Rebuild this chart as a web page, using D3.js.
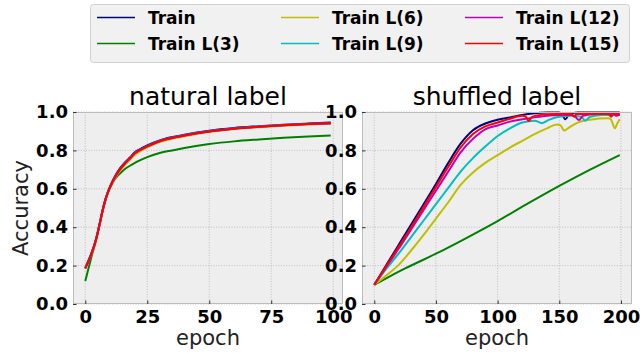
<!DOCTYPE html>
<html lang="en">
  <head>
    <script src="https://d3js.org/d3.v7.min.js"></script>
    <meta charset="utf-8"/>
    <title>Accuracy natural vs shuffled label</title>
  </head>
  <body style="margin:0;background:#fff">
    <div id="chart_div">
      <svg id="chart"></svg>
    </div>
  </body>
</html>

<style>
  text { font-family: "DejaVu Sans", sans-serif; }
</style>

<script>
  const width = 640;
  const height = 356;

  // legend / series names
  const seriesNames = ["Train", "Train L(3)", "Train L(6)", "Train L(9)", "Train L(12)", "Train L(15)"];
  const seriesColors = ["#000080", "#008000", "#bfbf00", "#00bfbf", "#bf00bf", "#ff0000"];

  // natural label (epochs 0..99)
  const natEpochs   = [0, 1, 2, 3, 4, 5, 6, 7, 8, 9, 10, 12, 14, 16, 18, 20, 22, 25, 30, 35, 40, 50, 60, 70, 80, 90, 99];
  const natTrain    = [0.188, 0.218, 0.248, 0.283, 0.323, 0.373, 0.43, 0.49, 0.54, 0.58, 0.612, 0.665, 0.706, 0.737, 0.763, 0.79, 0.806, 0.826, 0.852, 0.869, 0.882, 0.903, 0.917, 0.926, 0.934, 0.94, 0.945];
  const natTrainL3  = [0.12, 0.17, 0.22, 0.27, 0.315, 0.37, 0.43, 0.485, 0.535, 0.575, 0.605, 0.652, 0.68, 0.703, 0.72, 0.735, 0.748, 0.765, 0.786, 0.8, 0.813, 0.833, 0.847, 0.857, 0.866, 0.873, 0.878];
  const natTrainL6  = [0.184, 0.213, 0.243, 0.277, 0.316, 0.366, 0.423, 0.483, 0.533, 0.573, 0.604, 0.655, 0.694, 0.725, 0.751, 0.778, 0.795, 0.816, 0.843, 0.861, 0.874, 0.896, 0.911, 0.921, 0.929, 0.935, 0.939];
  const natTrainL9  = [0.186, 0.215, 0.245, 0.28, 0.32, 0.37, 0.427, 0.487, 0.537, 0.577, 0.609, 0.661, 0.702, 0.733, 0.759, 0.786, 0.802, 0.822, 0.849, 0.866, 0.879, 0.9, 0.914, 0.924, 0.932, 0.938, 0.942];
  const natTrainL12 = [0.186, 0.215, 0.245, 0.28, 0.32, 0.37, 0.427, 0.487, 0.537, 0.577, 0.609, 0.661, 0.701, 0.732, 0.758, 0.785, 0.801, 0.821, 0.848, 0.865, 0.878, 0.899, 0.913, 0.923, 0.931, 0.937, 0.941];
  const natTrainL15 = [0.186, 0.215, 0.245, 0.28, 0.32, 0.37, 0.427, 0.487, 0.537, 0.577, 0.609, 0.661, 0.701, 0.732, 0.758, 0.785, 0.801, 0.821, 0.848, 0.865, 0.878, 0.899, 0.913, 0.923, 0.931, 0.937, 0.941];

  // shuffled label (epochs 0..199)
  const shfTrainEpochs = [0, 10, 20, 30, 40, 50, 60, 70, 80, 90, 100, 110, 120, 130, 140, 150, 152, 155, 158, 165, 180, 199];
  const shfTrain       = [0.10, 0.205, 0.31, 0.415, 0.52, 0.625, 0.735, 0.835, 0.905, 0.94, 0.96, 0.972, 0.985, 0.993, 0.997, 0.998, 0.99, 0.962, 0.99, 0.998, 0.998, 0.998];
  const shfL3Epochs = [0, 10, 25, 50, 75, 100, 125, 150, 175, 199];
  const shfTrainL3  = [0.10, 0.135, 0.185, 0.262, 0.345, 0.432, 0.525, 0.615, 0.70, 0.776];
  const shfL6Epochs = [0, 10, 20, 30, 40, 50, 60, 70, 80, 90, 100, 110, 120, 130, 140, 148, 151, 154, 157, 165, 175, 190, 192, 195, 197, 199];
  const shfTrainL6  = [0.10, 0.15, 0.205, 0.28, 0.36, 0.445, 0.53, 0.62, 0.685, 0.735, 0.775, 0.815, 0.85, 0.885, 0.915, 0.935, 0.93, 0.903, 0.915, 0.945, 0.96, 0.967, 0.96, 0.915, 0.94, 0.962];
  const shfL9Epochs = [0, 10, 20, 30, 40, 50, 60, 70, 80, 90, 100, 110, 120, 130, 136, 142, 150, 160, 168, 171, 175, 185, 199];
  const shfTrainL9  = [0.10, 0.185, 0.265, 0.35, 0.435, 0.52, 0.605, 0.69, 0.76, 0.82, 0.875, 0.915, 0.945, 0.955, 0.942, 0.96, 0.975, 0.98, 0.975, 0.955, 0.975, 0.985, 0.985];
  const shfL12Epochs = [0, 10, 20, 30, 40, 50, 60, 70, 80, 90, 100, 110, 120, 130, 140, 150, 160, 163, 166, 169, 180, 194, 196, 199];
  const shfTrainL12  = [0.10, 0.195, 0.29, 0.39, 0.49, 0.59, 0.69, 0.79, 0.86, 0.91, 0.93, 0.95, 0.962, 0.972, 0.98, 0.985, 0.985, 0.975, 0.958, 0.98, 0.99, 0.99, 0.98, 0.985];
  const shfL15Epochs = [0, 10, 20, 30, 40, 50, 60, 70, 80, 90, 100, 110, 120, 123, 125, 128, 135, 150, 160, 162, 164, 190, 192, 194, 199];
  const shfTrainL15  = [0.10, 0.20, 0.30, 0.40, 0.505, 0.61, 0.715, 0.815, 0.885, 0.925, 0.945, 0.965, 0.98, 0.975, 0.953, 0.975, 0.985, 0.99, 0.99, 0.975, 0.99, 0.99, 0.975, 0.99, 0.99];

  const yTicks = [0.0, 0.2, 0.4, 0.6, 0.8, 1.0];
  const natXTicks = [0, 25, 50, 75, 100];
  const shfXTicks = [0, 50, 100, 150, 200];

  const zip = (xs, ys) => xs.map((x, i) => [x, ys[i]]);

  const panels = [
    {
      title: "natural label",
      left: 73, right: 343,
      xDomain: [-4.95, 103.95],
      xTicks: natXTicks,
      ylabel: "Accuracy",
      series: [
        zip(natEpochs, natTrain), zip(natEpochs, natTrainL3), zip(natEpochs, natTrainL6),
        zip(natEpochs, natTrainL9), zip(natEpochs, natTrainL12), zip(natEpochs, natTrainL15)
      ]
    },
    {
      title: "shuffled label",
      left: 362, right: 632,
      xDomain: [-9.95, 208.95],
      xTicks: shfXTicks,
      ylabel: null,
      series: [
        zip(shfTrainEpochs, shfTrain), zip(shfL3Epochs, shfTrainL3), zip(shfL6Epochs, shfTrainL6),
        zip(shfL9Epochs, shfTrainL9), zip(shfL12Epochs, shfTrainL12), zip(shfL15Epochs, shfTrainL15)
      ]
    }
  ];

  const plotTop = 112, plotBottom = 304;

  const svg = d3.select("#chart")
    .attr("width", width)
    .attr("height", height)
    .style("display", "block");

  const yScale = d3.scaleLinear().domain([0, 1]).range([plotBottom, plotTop]);

  panels.forEach((p, pi) => {
    const xScale = d3.scaleLinear().domain(p.xDomain).range([p.left, p.right]);
    const g = svg.append("g");

    g.append("rect")
      .attr("x", p.left).attr("y", plotTop)
      .attr("width", p.right - p.left).attr("height", plotBottom - plotTop)
      .attr("fill", "#eeeeee");

    // grid
    g.append("g").selectAll("line.vg")
      .data(p.xTicks).enter().append("line")
      .attr("x1", d => xScale(d)).attr("x2", d => xScale(d))
      .attr("y1", plotTop).attr("y2", plotBottom)
      .attr("stroke", "#b2b2b2").attr("stroke-width", 0.8)
      .attr("stroke-dasharray", "1,1.6");
    g.append("g").selectAll("line.hg")
      .data(yTicks).enter().append("line")
      .attr("x1", p.left).attr("x2", p.right)
      .attr("y1", d => yScale(d)).attr("y2", d => yScale(d))
      .attr("stroke", "#b2b2b2").attr("stroke-width", 0.8)
      .attr("stroke-dasharray", "1,1.6");

    // lines
    const clipId = "clip" + pi;
    svg.append("clipPath").attr("id", clipId)
      .append("rect")
      .attr("x", p.left).attr("y", plotTop - 2)
      .attr("width", p.right - p.left).attr("height", plotBottom - plotTop + 2);

    const line = d3.line()
      .x(d => xScale(d[0]))
      .y(d => yScale(d[1]))
      .curve(d3.curveMonotoneX);

    g.append("g").attr("clip-path", "url(#" + clipId + ")")
      .selectAll("path")
      .data(p.series)
      .enter().append("path")
      .attr("d", d => line(d))
      .attr("fill", "none")
      .attr("stroke", (d, i) => seriesColors[i])
      .attr("stroke-width", 2);

    // frame
    g.append("rect")
      .attr("x", p.left + 0.5).attr("y", plotTop + 0.5)
      .attr("width", p.right - p.left - 1).attr("height", plotBottom - plotTop - 1)
      .attr("fill", "none").attr("stroke", "#bcbcbc").attr("stroke-width", 1);

    // axes
    const xAxis = g.append("g")
      .attr("transform", "translate(0," + plotBottom + ")")
      .call(d3.axisBottom(xScale).tickValues(p.xTicks)
        .tickSizeInner(-3.5).tickSizeOuter(0).tickPadding(6));
    const yAxis = g.append("g")
      .attr("transform", "translate(" + p.left + ",0)")
      .call(d3.axisLeft(yScale).tickValues(yTicks)
        .tickFormat(d3.format(".1f"))
        .tickSizeInner(-3.5).tickSizeOuter(0).tickPadding(5));

    [xAxis, yAxis].forEach(ax => {
      ax.select(".domain").remove();
      ax.selectAll(".tick line").attr("stroke", "#333333").attr("stroke-width", 1);
      ax.selectAll(".tick text")
        .attr("fill", "#000")
        .style("font-family", "'DejaVu Sans', sans-serif")
        .style("font-size", "18px")
        .style("font-weight", "bold");
    });

    g.append("text")
      .attr("x", (p.left + p.right) / 2).attr("y", 105)
      .attr("text-anchor", "middle")
      .style("font-size", "25px")
      .attr("fill", "#000")
      .text(p.title);

    g.append("text")
      .attr("x", (p.left + p.right) / 2).attr("y", 345)
      .attr("text-anchor", "middle")
      .style("font-size", "21px")
      .attr("fill", "#222")
      .text("epoch");

    if (p.ylabel) {
      g.append("text")
        .attr("transform", "translate(28," + (plotTop + plotBottom) / 2 + ") rotate(-90)")
        .attr("text-anchor", "middle")
        .style("font-size", "21px")
        .attr("fill", "#222")
        .text(p.ylabel);
    }
  });

  // legend
  const legend = svg.append("g");
  legend.append("rect")
    .attr("x", 90.5).attr("y", 4.5)
    .attr("width", 539).attr("height", 58)
    .attr("rx", 3)
    .attr("fill", "#f1f1f1")
    .attr("stroke", "#d0d0d0");

  const colX = [97, 281, 465];
  const rowY = [17.5, 43.5];
  const items = legend.selectAll("g.item")
    .data(seriesNames)
    .enter().append("g")
    .attr("transform", (d, i) => "translate(" + colX[Math.floor(i / 2)] + "," + rowY[i % 2] + ")");
  items.append("line")
    .attr("x1", 0).attr("x2", 38)
    .attr("stroke", (d, i) => seriesColors[i])
    .attr("stroke-width", 1.6);
  items.append("text")
    .attr("x", 51).attr("y", 6)
    .style("font-size", "17px")
    .style("font-weight", "bold")
    .attr("fill", "#000")
    .text(d => d);
</script>
